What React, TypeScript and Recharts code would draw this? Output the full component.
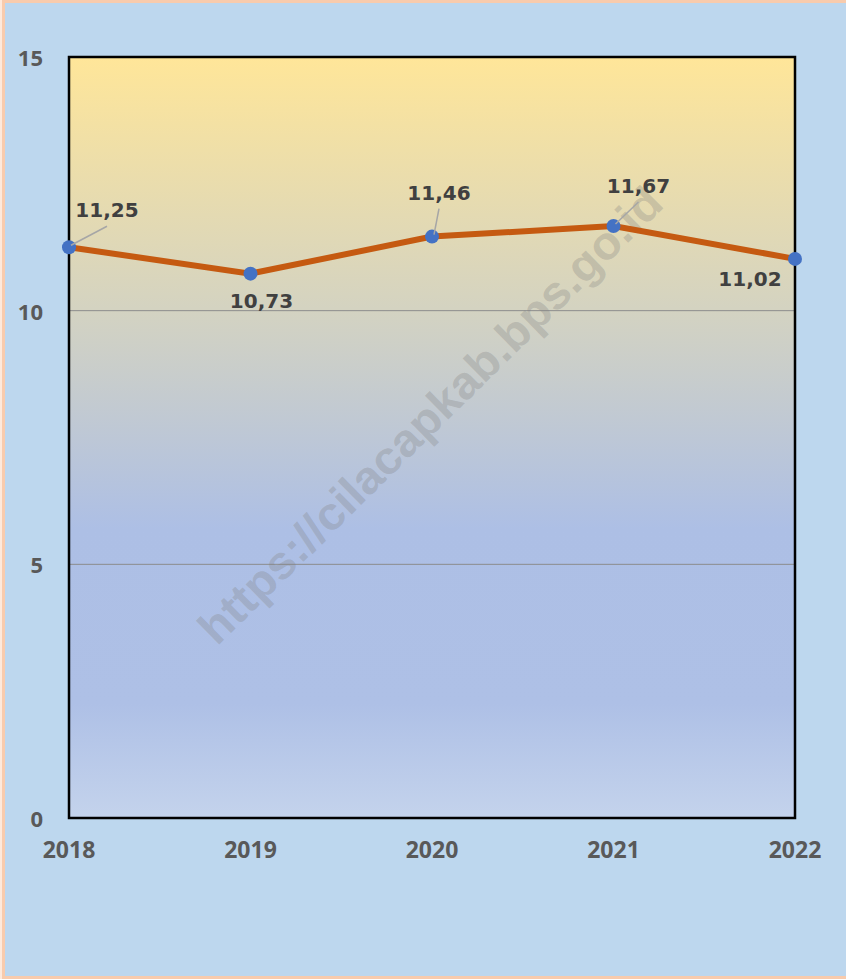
import { LineChart, Line, XAxis, YAxis, CartesianGrid, ReferenceArea } from 'recharts'

const years = ['2018', '2019', '2020', '2021', '2022']
const rates = [11.25, 10.73, 11.46, 11.67, 11.02]
const yTicks = [0, 5, 10, 15]

const data = years.map((year, i) => ({ year, value: rates[i] }))

// where each data label sits relative to its point, and whether it has a leader line
const labelPlacement = [
  { dx: 38, dy: -37, leader: true },
  { dx: 11, dy: 27, leader: false },
  { dx: 7, dy: -44, leader: true },
  { dx: 25, dy: -40, leader: true },
  { dx: -45, dy: 20, leader: false },
]

const tickFont = '"Open Sans", "DejaVu Sans", sans-serif'
const labelFont = '"DejaVu Sans", sans-serif'

function formatValue(v: number): string {
  return v.toFixed(2).replace('.', ',')
}

function XTick(props: any) {
  const { x, y, payload } = props
  return (
    <text
      x={x}
      y={y + 31}
      textAnchor="middle"
      dominantBaseline="central"
      fontFamily={tickFont}
      fontWeight={700}
      fontSize={23}
      fill="#595959"
    >
      {payload.value}
    </text>
  )
}

function YTick(props: any) {
  const { y, payload } = props
  return (
    <text
      x={43}
      y={y}
      textAnchor="end"
      dominantBaseline="central"
      fontFamily={tickFont}
      fontWeight={700}
      fontSize={22}
      fill="#595959"
    >
      {payload.value}
    </text>
  )
}

function DataLabel(props: any) {
  const { x, y, index, value } = props
  const p = labelPlacement[index]
  if (!p) return null
  const lx = x + p.dx
  const ly = y + p.dy
  return (
    <g>
      {p.leader && (
        <line
          x1={x + 2}
          y1={y - 2}
          x2={lx}
          y2={ly + 16}
          stroke="#A6A6A6"
          strokeWidth={1.5}
        />
      )}
      <text
        x={lx}
        y={ly}
        textAnchor="middle"
        dominantBaseline="central"
        fontFamily={labelFont}
        fontWeight={700}
        fontSize={20}
        fill="#404040"
      >
        {formatValue(value)}
      </text>
    </g>
  )
}

export default function App() {
  return (
    <div
      style={{
        position: 'absolute',
        top: 0,
        left: 0,
        width: 846,
        height: 979,
        background: '#BDD7EE',
        boxShadow:
          'inset 2px 0 0 #FDE9DC, inset 5px 3px 0 #F8CBAD, inset 0 -3px 0 #F8CBAD',
      }}
    >
      <div style={{ position: 'absolute', top: 0, left: 0 }}>
        <LineChart
          width={846}
          height={979}
          data={data}
          margin={{ top: 57, right: 51, bottom: 121, left: 9 }}
        >
          <defs>
            <linearGradient id="plotBg" x1="0" y1="0" x2="0" y2="1">
              <stop offset="0%" stopColor="#FFE699" />
              <stop offset="33%" stopColor="#D4D3C1" />
              <stop offset="62%" stopColor="#ADBFE5" />
              <stop offset="85%" stopColor="#AEC0E6" />
              <stop offset="100%" stopColor="#C4D3EC" />
            </linearGradient>
          </defs>
          <CartesianGrid
            vertical={false}
            stroke="#8C8C8C"
            strokeWidth={1}
            fill="url(#plotBg)"
            fillOpacity={1}
          />
          <text
            x={430}
            y={415}
            textAnchor="middle"
            dominantBaseline="central"
            transform="rotate(-44.5 430 415)"
            fontFamily='"Liberation Sans", Arial, sans-serif'
            fontWeight={700}
            fontSize={46}
            textLength={629}
            lengthAdjust="spacingAndGlyphs"
            fill="rgba(128,128,128,0.3)"
          >
            https://cilacapkab.bps.go.id
          </text>
          <XAxis
            dataKey="year"
            height={40}
            axisLine={false}
            tickLine={false}
            tickSize={0}
            tickMargin={0}
            interval={0}
            tick={<XTick />}
          />
          <YAxis
            width={60}
            domain={[0, 15]}
            ticks={yTicks}
            axisLine={false}
            tickLine={false}
            tickSize={0}
            tick={<YTick />}
          />
          <ReferenceArea
            x1="2018"
            x2="2022"
            y1={0}
            y2={15}
            fill="none"
            stroke="#000000"
            strokeWidth={2.5}
            ifOverflow="visible"
          />
          <Line
            type="linear"
            dataKey="value"
            stroke="#C55A11"
            strokeWidth={6}
            dot={{ r: 7, fill: '#4472C4', stroke: 'none' }}
            activeDot={false}
            isAnimationActive={false}
            label={<DataLabel />}
          />
        </LineChart>
      </div>
    </div>
  )
}
